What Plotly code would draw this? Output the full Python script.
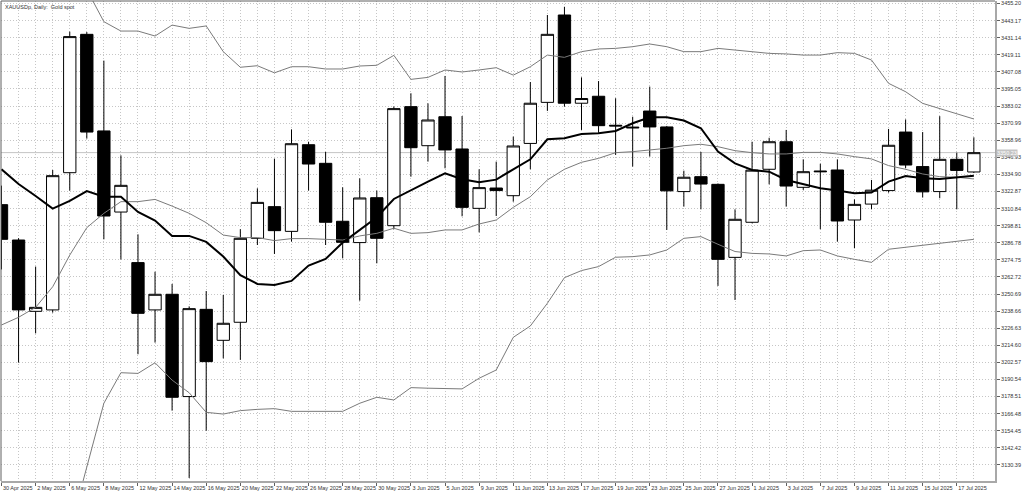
import plotly.graph_objects as go

# XAUUSDp daily bars, 30 Apr 2025 .. 18 Jul 2025
dates = [
    "2025-04-30", "2025-05-01", "2025-05-02", "2025-05-05", "2025-05-06", "2025-05-07",
    "2025-05-08", "2025-05-09", "2025-05-12", "2025-05-13", "2025-05-14", "2025-05-15",
    "2025-05-16", "2025-05-19", "2025-05-20", "2025-05-21", "2025-05-22", "2025-05-23",
    "2025-05-26", "2025-05-27", "2025-05-28", "2025-05-29", "2025-05-30", "2025-06-02",
    "2025-06-03", "2025-06-04", "2025-06-05", "2025-06-06", "2025-06-09", "2025-06-10",
    "2025-06-11", "2025-06-12", "2025-06-13", "2025-06-16", "2025-06-17", "2025-06-18",
    "2025-06-19", "2025-06-20", "2025-06-23", "2025-06-24", "2025-06-25", "2025-06-26",
    "2025-06-27", "2025-06-30", "2025-07-01", "2025-07-02", "2025-07-03", "2025-07-04",
    "2025-07-07", "2025-07-08", "2025-07-09", "2025-07-10", "2025-07-11", "2025-07-14",
    "2025-07-15", "2025-07-16", "2025-07-17", "2025-07-18",
]

opens = [
    3313.6, 3288.7, 3238.5, 3239.5, 3336.1, 3433.5, 3365.5, 3308.4, 3272.8, 3239.5,
    3250.5, 3178.5, 3239.9, 3218.1, 3230.8, 3289.9, 3312.2, 3294.8, 3355.8, 3342.7,
    3301.9, 3286.9, 3318.5, 3298.8, 3382.6, 3355.1, 3375.5, 3352.8, 3311.0, 3325.3,
    3319.9, 3356.7, 3385.6, 3447.1, 3385.0, 3389.9, 3369.5, 3368.2, 3379.5, 3368.3,
    3322.8, 3333.3, 3327.9, 3276.5, 3301.2, 3338.5, 3357.9, 3325.8, 3337.3, 3338.0,
    3302.8, 3314.0, 3323.5, 3364.7, 3340.4, 3322.8, 3345.5, 3336.6,
]
highs = [
    3327.0, 3290.0, 3270.0, 3338.0, 3435.4, 3435.1, 3415.0, 3348.3, 3292.7, 3266.4,
    3257.8, 3242.0, 3252.8, 3250.0, 3296.3, 3325.1, 3346.0, 3366.6, 3357.9, 3350.7,
    3325.8, 3332.1, 3323.5, 3382.6, 3392.0, 3384.9, 3404.2, 3376.0, 3338.5, 3343.9,
    3361.5, 3399.9, 3447.1, 3452.9, 3403.2, 3400.6, 3388.5, 3375.5, 3396.7, 3369.0,
    3337.5, 3350.7, 3328.5, 3310.3, 3357.9, 3360.7, 3366.2, 3345.5, 3342.4, 3345.5,
    3317.3, 3331.0, 3366.9, 3373.6, 3364.7, 3375.9, 3350.2, 3361.0,
]
lows = [
    3268.0, 3202.4, 3223.0, 3237.6, 3323.5, 3360.1, 3289.2, 3275.1, 3208.3, 3216.5,
    3168.6, 3121.2, 3154.5, 3205.4, 3204.3, 3285.2, 3278.9, 3287.6, 3323.5, 3285.2,
    3275.8, 3246.0, 3272.3, 3296.3, 3333.3, 3343.9, 3339.2, 3305.4, 3294.1, 3305.6,
    3315.7, 3338.5, 3379.6, 3382.6, 3366.2, 3364.2, 3348.6, 3340.4, 3347.4, 3295.8,
    3312.2, 3310.3, 3256.4, 3246.5, 3300.5, 3327.9, 3312.2, 3324.0, 3296.3, 3287.6,
    3282.9, 3310.3, 3322.1, 3339.2, 3318.6, 3318.1, 3310.3, 3336.0,
]
closes = [
    3289.2, 3239.5, 3241.3, 3334.0, 3431.9, 3364.7, 3305.6, 3327.2, 3237.1, 3250.5,
    3178.0, 3240.4, 3203.1, 3230.1, 3289.9, 3315.2, 3295.3, 3356.5, 3342.2, 3301.2,
    3287.1, 3318.3, 3289.9, 3381.2, 3353.7, 3373.2, 3352.1, 3311.7, 3325.6, 3323.5,
    3354.9, 3385.0, 3433.5, 3385.0, 3388.3, 3369.2, 3369.0, 3367.7, 3368.3, 3323.3,
    3332.9, 3328.1, 3275.1, 3303.3, 3337.9, 3357.9, 3326.7, 3336.8, 3336.8, 3302.1,
    3313.8, 3323.8, 3355.4, 3341.5, 3322.6, 3345.5, 3337.7, 3350.2,
]

# indicator lines
ma_thick = [
    3338.5, 3328.1, 3319.7, 3310.8, 3316.2, 3323.2, 3319.2, 3319.2, 3308.5, 3302.4,
    3291.6, 3291.6, 3287.4, 3277.1, 3264.0, 3257.8, 3257.1, 3259.9, 3270.7, 3275.4,
    3286.9, 3295.8, 3304.7, 3317.6, 3324.0, 3329.8, 3335.7, 3331.5, 3329.4, 3331.2,
    3338.5, 3345.5, 3359.6, 3360.3, 3363.3, 3363.8, 3365.5, 3370.9, 3375.1, 3375.1,
    3372.8, 3367.4, 3351.0, 3342.7, 3338.0, 3336.8, 3331.0, 3327.9, 3325.1, 3323.5,
    3321.6, 3322.1, 3329.8, 3333.8, 3332.2, 3331.7, 3332.7, 3334.0,
]
band_mid = [
    3228.9, 3234.3, 3241.3, 3255.8, 3278.1, 3297.4, 3307.5, 3315.7, 3315.7, 3317.3,
    3312.6, 3307.5, 3300.9, 3292.2, 3290.4, 3290.4, 3288.3, 3289.7, 3289.7, 3289.2,
    3288.7, 3291.6, 3293.4, 3297.0, 3293.4, 3293.9, 3295.8, 3295.8, 3300.0, 3302.8,
    3311.7, 3319.2, 3331.0, 3338.5, 3343.4, 3346.2, 3350.2, 3350.9, 3352.1, 3353.3,
    3355.1, 3356.1, 3354.4, 3351.6, 3350.2, 3349.3, 3349.3, 3350.4, 3350.4, 3349.3,
    3347.4, 3345.8, 3341.1, 3338.5, 3335.2, 3333.3, 3332.9, 3331.7,
]
band_upper = [
    3505.0, 3500.0, 3490.0, 3482.0, 3472.0, 3465.0, 3442.4, 3435.8, 3435.8, 3432.3,
    3440.0, 3437.7, 3439.4, 3421.3, 3410.3, 3411.4, 3406.4, 3410.7, 3410.7, 3409.1,
    3409.1, 3411.2, 3411.7, 3418.7, 3401.8, 3403.2, 3408.4, 3407.0, 3408.4, 3410.0,
    3404.8, 3410.7, 3418.9, 3417.3, 3421.3, 3423.2, 3423.6, 3424.8, 3426.7, 3424.8,
    3421.3, 3421.3, 3423.6, 3422.5, 3421.3, 3420.1, 3419.7, 3418.9, 3418.9, 3420.6,
    3420.1, 3415.4, 3399.0, 3393.1, 3384.9, 3381.4, 3377.9, 3373.9,
]
band_lower = [
    3095.0, 3090.0, 3087.0, 3083.0, 3084.0, 3129.2, 3173.8, 3195.3, 3194.8, 3202.3,
    3190.1, 3181.2, 3167.4, 3166.2, 3168.6, 3169.5, 3170.0, 3168.1, 3168.1, 3168.1,
    3168.1, 3173.8, 3178.0, 3176.1, 3184.8, 3184.4, 3183.9, 3183.9, 3191.4, 3197.2,
    3220.2, 3228.2, 3244.2, 3262.2, 3267.2, 3270.0, 3276.6, 3277.0, 3278.2, 3281.7,
    3289.9, 3291.1, 3285.7, 3280.6, 3279.3, 3278.9, 3277.5, 3281.2, 3281.7, 3277.5,
    3275.1, 3273.0, 3282.2, 3283.6, 3284.7, 3285.9, 3287.3, 3289.2,
]

date_labels = [
    "30 Apr 2025", "2 May 2025", "6 May 2025", "8 May 2025", "12 May 2025",
    "14 May 2025", "16 May 2025", "20 May 2025", "22 May 2025", "26 May 2025",
    "28 May 2025", "30 May 2025", "3 Jun 2025", "5 Jun 2025", "9 Jun 2025",
    "11 Jun 2025", "13 Jun 2025", "17 Jun 2025", "19 Jun 2025", "23 Jun 2025",
    "25 Jun 2025", "27 Jun 2025", "1 Jul 2025", "3 Jul 2025", "7 Jul 2025",
    "9 Jul 2025", "11 Jul 2025", "15 Jul 2025", "17 Jul 2025",
]
price_ticks = [
    3130.39, 3142.42, 3154.45, 3166.48, 3178.51, 3190.54, 3202.57, 3214.60,
    3226.63, 3238.66, 3250.69, 3262.72, 3274.75, 3286.78, 3298.81, 3310.84,
    3322.87, 3334.90, 3346.93, 3358.96, 3370.99, 3383.02, 3395.05, 3407.08,
    3419.11, 3431.14, 3443.17, 3455.20,
]
bid_price = 3350.23

idx = list(range(len(dates)))
label_pos = idx[0::2]
odd_pos = idx[1::2]

FONT = "Liberation Sans"
GRID = "#c6c6c6"
GRID_DASH = "1px,2px"
TEXT = "#333333"

fig = go.Figure()

fig.add_trace(go.Candlestick(
    x=idx, open=opens, high=highs, low=lows, close=closes,
    increasing=dict(line=dict(color="black", width=1), fillcolor="white"),
    decreasing=dict(line=dict(color="black", width=1), fillcolor="black"),
    whiskerwidth=0,
    hoverinfo="skip",
))

for band in (band_upper, band_mid, band_lower):
    fig.add_trace(go.Scatter(
        x=idx, y=band, mode="lines",
        line=dict(color="#7a7a7a", width=1),
        hoverinfo="skip",
    ))

fig.add_trace(go.Scatter(
    x=idx, y=ma_thick, mode="lines",
    line=dict(color="black", width=2),
    hoverinfo="skip",
))

# bid line across the chart
fig.add_shape(type="line", xref="paper", x0=0, x1=1, yref="y",
              y0=bid_price, y1=bid_price, line=dict(color="#c4c4c4", width=1),
              layer="below")

# top and left frame
fig.add_shape(type="line", xref="paper", yref="paper", x0=0, x1=1, y0=1, y1=1,
              line=dict(color="#606060", width=1))
fig.add_shape(type="line", xref="paper", yref="paper", x0=0, x1=0, y0=0, y1=1,
              line=dict(color="#606060", width=1))

fig.add_annotation(
    xref="paper", yref="y", x=1, y=bid_price, xanchor="left", yanchor="middle",
    xshift=1, text=f"{bid_price:.2f}", showarrow=False,
    bgcolor="#c4c4c4", font=dict(family=FONT, size=5.5, color="white"),
    borderpad=0,
)

fig.add_annotation(
    xref="paper", yref="paper", x=0, y=1, xanchor="left", yanchor="top",
    xshift=2, yshift=-1, text="XAUUSDp, Daily:\u00a0 Gold spot", showarrow=False,
    font=dict(family=FONT, size=5.5, color=TEXT),
)

fig.update_layout(
    width=1024, height=492,
    margin=dict(l=1, r=29, t=1, b=11),
    paper_bgcolor="white", plot_bgcolor="white",
    showlegend=False, hovermode=False,
    boxgap=0.15, boxgroupgap=0.15,
    font=dict(family=FONT, size=5.5, color=TEXT),
    xaxis=dict(
        range=[-0.03, 58.24], rangeslider=dict(visible=False),
        tickmode="array", tickvals=label_pos, ticktext=date_labels,
        ticklabelposition="outside right", tickangle=0,
        ticks="outside", ticklen=3, tickcolor="#606060",
        showgrid=True, gridcolor=GRID, griddash=GRID_DASH, gridwidth=1,
        minor=dict(tickmode="array", tickvals=odd_pos, showgrid=True,
                   gridcolor=GRID, griddash=GRID_DASH, gridwidth=1, ticks=""),
        showline=True, linecolor="#a8a8a8", linewidth=2,
        zeroline=False, fixedrange=True, automargin=False,
        tickfont=dict(family=FONT, size=5.5, color=TEXT),
    ),
    yaxis=dict(
        range=[3119.07, 3456.96], side="right",
        tickmode="array", tickvals=price_ticks,
        ticktext=[f"{v:.2f}" for v in price_ticks],
        ticks="outside", ticklen=3, tickcolor="#606060",
        showgrid=True, gridcolor=GRID, griddash=GRID_DASH, gridwidth=1,
        showline=True, linecolor="#a8a8a8", linewidth=2,
        zeroline=False, fixedrange=True, automargin=False,
        tickfont=dict(family=FONT, size=5.5, color=TEXT),
    ),
)

fig.write_html("out.html", config=dict(displayModeBar=False),
               post_script="document.body.style.margin='0';")
